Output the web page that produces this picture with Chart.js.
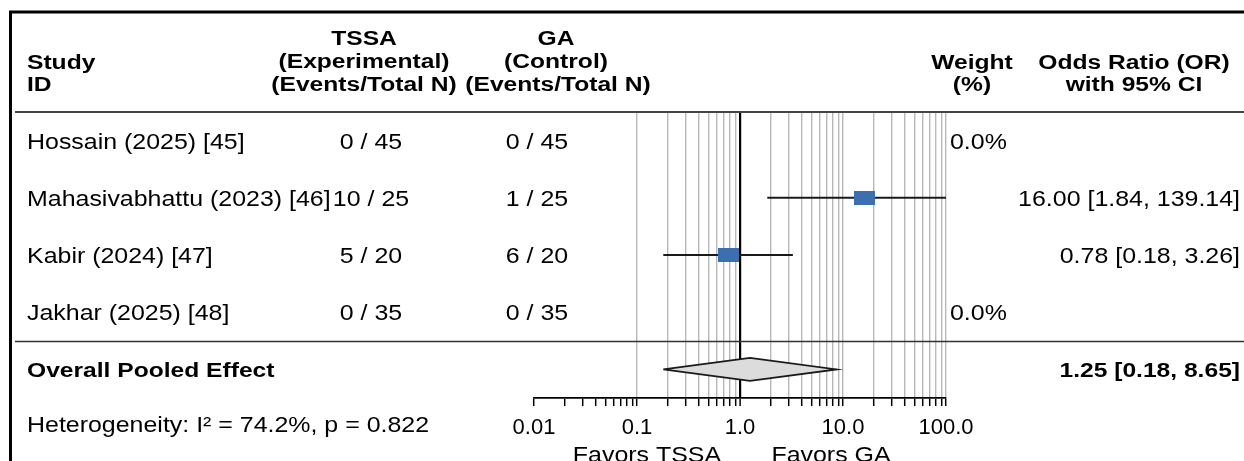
<!DOCTYPE html>
<html>
<head>
<meta charset="utf-8">
<script src="https://cdn.jsdelivr.net/npm/chart.js@4.4.1/dist/chart.umd.min.js"></script>
<style>
  html, body { margin: 0; padding: 0; background: #fff; }
  #wrap { position: relative; width: 1244px; height: 461px; }
</style>
</head>
<body>
<div id="wrap"><canvas id="forest"></canvas></div>
<script>
// ---------------- Data ----------------
const studies = ["Hossain (2025) [45]", "Mahasivabhattu (2023) [46]", "Kabir (2024) [47]", "Jakhar (2025) [48]"];
const tssaEvents = [0, 10, 5, 0];
const tssaTotal = [45, 25, 20, 35];
const gaEvents = [0, 1, 6, 0];
const gaTotal = [45, 25, 20, 35];
const oddsRatio = [null, 16.00, 0.78, null];
const ciLow = [null, 1.84, 0.18, null];
const ciHigh = [null, 139.14, 3.26, null];
const weightText = ["0.0%", "", "", "0.0%"];

const pooledLabel = "Overall Pooled Effect";
const pooledOR = 1.25;
const pooledLow = 0.18;
const pooledHigh = 8.65;
const heterogeneityText = "Heterogeneity: I\u00b2 = 74.2%, p = 0.822";

const xTickValues = [0.01, 0.1, 1, 10, 100];
const xTickLabels = ["0.01", "0.1", "1.0", "10.0", "100.0"];
const favorsLeft = "Favors TSSA";
const favorsRight = "Favors GA";

// ---------------- Styles ----------------
const FONT = '"Liberation Sans", Arial, Helvetica, sans-serif';
const BLUE = "#3d6fb0";
const pooledRow = studies.length;
const diamondHalf = 0.2;

// rectangular marker (wider than tall, like the reference)
const marker = document.createElement("canvas");
marker.width = 21;
marker.height = 14;
const mctx = marker.getContext("2d");
mctx.fillStyle = BLUE;
mctx.fillRect(0, 0, 21, 14);

const fmt = (v) => v.toFixed(2);

// minor log grid positions (1..9 per decade)
const gridValues = [];
for (let e = -2; e < 2; e++) {
    for (let m = 1; m <= 9; m++) gridValues.push(+(m * Math.pow(10, e)).toPrecision(3));
}
gridValues.push(100);

const isTick = (v, t) => Math.abs(Math.log10(v) - Math.log10(t)) < 1e-6;

// CI line datasets
const ciSets = [];
studies.forEach((s, i) => {
    if (oddsRatio[i] == null) return;
    ciSets.push({
        type: "scatter",
        data: [{ x: ciLow[i], y: i }, { x: ciHigh[i], y: i }],
        showLine: true,
        borderColor: "#1a1a1a",
        borderWidth: 2,
        pointRadius: 0,
        order: 1
    });
});

const pointSet = {
    type: "scatter",
    data: studies.map((s, i) => oddsRatio[i] == null ? null : { x: oddsRatio[i], y: i }).filter(Boolean),
    pointStyle: marker,
    pointRadius: 10,
    order: 0
};

const diamondSet = {
    type: "scatter",
    data: [
        { x: pooledLow, y: pooledRow },
        { x: pooledOR, y: pooledRow - diamondHalf },
        { x: pooledHigh, y: pooledRow },
        { x: pooledOR, y: pooledRow + diamondHalf },
        { x: pooledLow, y: pooledRow }
    ],
    showLine: true,
    fill: "shape",
    backgroundColor: "#dcdcdc",
    borderColor: "#1a1a1a",
    borderWidth: 1.8,
    pointRadius: 0,
    order: 2
};

// ---------------- Table text plugin ----------------
function txt(ctx, s, x, y, align, bold, size, sx) {
    ctx.save();
    ctx.font = (bold ? "bold " : "") + size + "px " + FONT;
    ctx.fillStyle = "#000";
    ctx.textAlign = align;
    ctx.textBaseline = "middle";
    ctx.translate(x, y);
    ctx.scale(sx, 1);
    ctx.fillText(s, 0, 0);
    ctx.restore();
}

const tablePlugin = {
    id: "forestTable",
    afterDraw(chart) {
        const ctx = chart.ctx;
        const xs = chart.scales.x;
        const ys = chart.scales.y;
        const area = chart.chartArea;

        // frame
        ctx.save();
        ctx.strokeStyle = "#000";
        ctx.lineWidth = 3;
        ctx.strokeRect(10.5, 12, 1300, 600);

        // header rule and pooled separator
        ctx.strokeStyle = "#444";
        ctx.lineWidth = 2;
        ctx.beginPath();
        ctx.moveTo(15, area.top);
        ctx.lineTo(1244, area.top);
        ctx.stroke();
        ctx.lineWidth = 1.5;
        ctx.strokeStyle = "#333";
        const sep = Math.round(ys.getPixelForValue(pooledRow - 0.5)) + 0.5;
        ctx.beginPath();
        ctx.moveTo(15, sep);
        ctx.lineTo(1244, sep);
        ctx.stroke();
        ctx.restore();

        // headers
        const H = 20, HS = 1.23;
        txt(ctx, "Study", 27, 63, "left", true, H, HS);
        txt(ctx, "ID", 27, 85, "left", true, H, HS);
        txt(ctx, "TSSA", 364, 39, "center", true, H, HS);
        txt(ctx, "(Experimental)", 364, 62, "center", true, H, HS);
        txt(ctx, "(Events/Total N)", 364, 85, "center", true, H, HS);
        txt(ctx, "GA", 556, 39, "center", true, H, HS);
        txt(ctx, "(Control)", 556, 62, "center", true, H, HS);
        txt(ctx, "(Events/Total N)", 558, 85, "center", true, H, HS);
        txt(ctx, "Weight", 972, 63, "center", true, H, HS);
        txt(ctx, "(%)", 972, 85, "center", true, H, HS);
        txt(ctx, "Odds Ratio (OR)", 1134, 63, "center", true, H, HS);
        txt(ctx, "with 95% CI", 1134, 85, "center", true, H, HS);

        // study rows
        const B = 21.5, BS = 1.16, dy = 2;
        studies.forEach((s, i) => {
            const y = ys.getPixelForValue(i) + dy;
            txt(ctx, s, 27, y, "left", false, B, BS);
            txt(ctx, tssaEvents[i] + " / " + tssaTotal[i], 371, y, "center", false, B, BS);
            txt(ctx, gaEvents[i] + " / " + gaTotal[i], 537, y, "center", false, B, BS);
            if (weightText[i]) txt(ctx, weightText[i], 950, y, "left", false, B, BS);
            if (oddsRatio[i] != null) {
                txt(ctx, fmt(oddsRatio[i]) + " [" + fmt(ciLow[i]) + ", " + fmt(ciHigh[i]) + "]", 1240, y, "right", false, B, BS);
            }
        });

        // pooled row
        const py = ys.getPixelForValue(pooledRow) + dy;
        txt(ctx, pooledLabel, 27, py, "left", true, 20.5, 1.2);
        txt(ctx, fmt(pooledOR) + " [" + fmt(pooledLow) + ", " + fmt(pooledHigh) + "]", 1240, py, "right", true, 20.5, 1.2);

        // heterogeneity + favors labels
        txt(ctx, heterogeneityText, 27, 426, "left", false, B, BS);
        const one = xs.getPixelForValue(1);
        txt(ctx, favorsLeft, one - 93, 456, "center", false, B, BS);
        txt(ctx, favorsRight, one + 91, 456, "center", false, B, BS);
    }
};

// ---------------- Chart ----------------
const chart = new Chart(document.getElementById("forest"), {
    type: "scatter",
    data: { datasets: [diamondSet, ...ciSets, pointSet] },
    options: {
        responsive: true,
        maintainAspectRatio: false,
        animation: false,
        layout: { padding: { left: 534, right: 298, top: 112, bottom: 0 } },
        plugins: { legend: { display: false }, tooltip: { enabled: false } },
        scales: {
            x: {
                type: "logarithmic",
                min: 0.01,
                max: 100,
                afterBuildTicks: (axis) => { axis.ticks = gridValues.map(v => ({ value: v })); },
                afterFit: (axis) => { axis.height = 63; },
                border: { color: "#000", width: 1.8 },
                grid: {
                    color: (c) => {
                        const v = c.tick ? c.tick.value : 0;
                        if (v < 0.1 - 1e-9) return "rgba(0,0,0,0)";
                        if (isTick(v, 1)) return "#000";
                        return "#b8b8b8";
                    },
                    lineWidth: (c) => (c.tick && isTick(c.tick.value, 1)) ? 2.2 : 1.4,
                    tickColor: "#000",
                    tickLength: 8,
                    tickWidth: 1.5
                },
                ticks: {
                    autoSkip: false,
                    maxRotation: 0,
                    padding: 9,
                    color: "#000",
                    font: { family: FONT, size: 22 },
                    callback: (v) => {
                        const k = xTickValues.findIndex(t => isTick(v, t));
                        return k >= 0 ? xTickLabels[k] : "";
                    }
                }
            },
            y: {
                type: "linear",
                display: false,
                reverse: true,
                min: -0.5,
                max: pooledRow + 0.5
            }
        }
    },
    plugins: [tablePlugin]
});
</script>
</body>
</html>
